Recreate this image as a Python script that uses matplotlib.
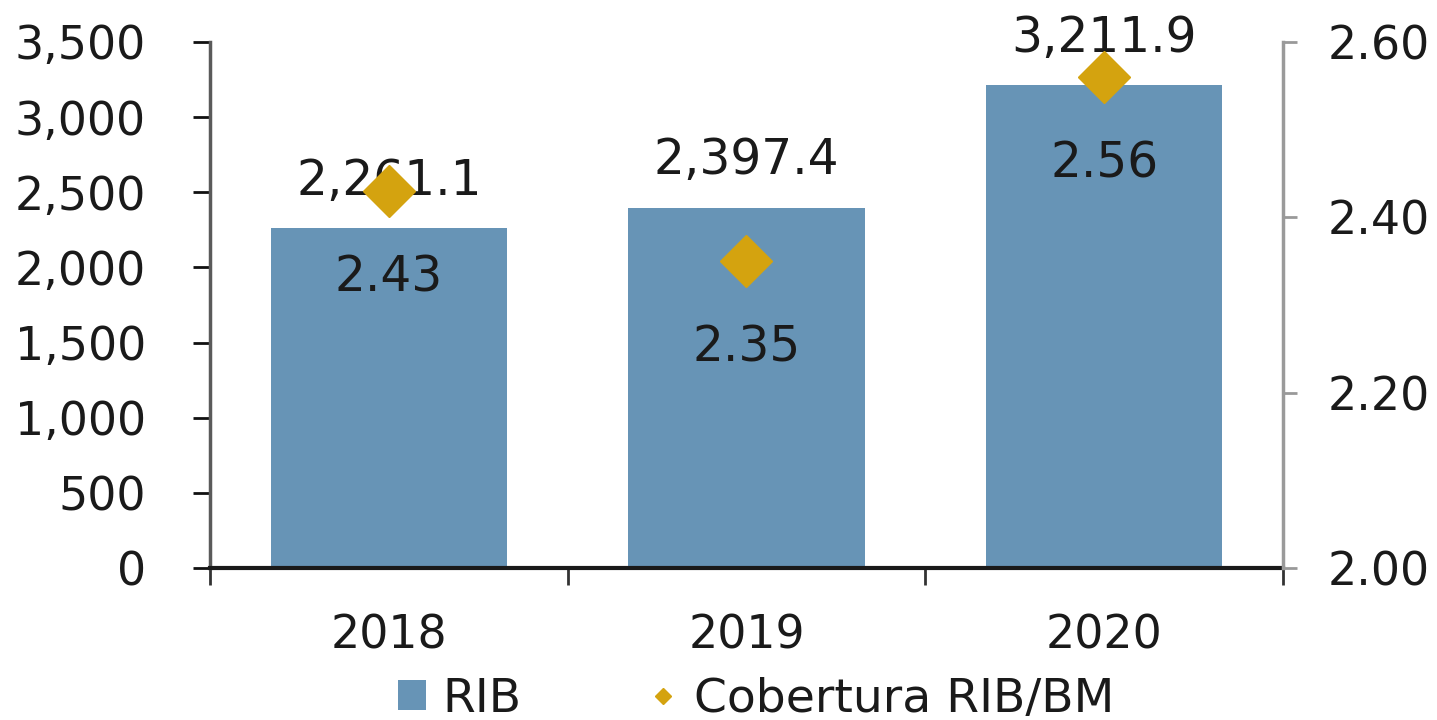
import matplotlib.pyplot as plt
from matplotlib.lines import Line2D
from matplotlib.patches import Patch

# data
years = ["2018", "2019", "2020"]
rib = [2261.1, 2397.4, 3211.9]
rib_labels = ["2,261.1", "2,397.4", "3,211.9"]
cobertura = [2.43, 2.35, 2.56]
cob_labels = ["2.43", "2.35", "2.56"]
left_ticks = [0, 500, 1000, 1500, 2000, 2500, 3000, 3500]
right_ticks = [2.00, 2.20, 2.40, 2.60]

bar_color = "#6794b6"
dia_color = "#d4a30f"
txt = "#1a1a1a"
fs = 33

plt.rcParams["font.family"] = "DejaVu Sans"

fig = plt.figure(figsize=(14.37, 7.2), dpi=100)
ax = fig.add_axes([210 / 1437, 1 - 568 / 720, (1283 - 210) / 1437, (568 - 42) / 720])
x = list(range(len(years)))

ax.bar(x, rib, width=0.66, color=bar_color, zorder=2)
ax.set_xlim(-0.5, 2.5)
ax.set_ylim(0, 3500)
ax.set_yticks(left_ticks)
ax.set_yticklabels([f"{v:,}" for v in left_ticks])

# category boundaries get the ticks, centres get the labels
ax.set_xticks([-0.5, 0.5, 1.5, 2.5])
ax.set_xticklabels([])
ax.set_xticks(x, minor=True)
ax.set_xticklabels(years, minor=True)
ax.tick_params(axis="x", which="major", direction="out", length=12, width=2, color="#333")
ax.tick_params(axis="x", which="minor", length=0, pad=33, labelsize=fs, labelcolor=txt)
ax.tick_params(axis="y", direction="out", length=12, width=2, color="#111",
               pad=34, labelsize=fs, labelcolor=txt)

ax.spines["top"].set_visible(False)
ax.spines["right"].set_visible(False)
ax.spines["left"].set_color("#5a5a5a")
ax.spines["left"].set_linewidth(2.5)
ax.spines["bottom"].set_color("#1a1a1a")
ax.spines["bottom"].set_linewidth(3)

for xi, v, lab in zip(x, rib, rib_labels):
    ax.annotate(lab, (xi, v), xytext=(0, 24), textcoords="offset points",
                ha="center", va="baseline", fontsize=35, color=txt, zorder=4)

ax2 = ax.twinx()
ax2.plot(x, cobertura, linestyle="none", marker="D", markersize=26,
         color=dia_color, zorder=3)
ax2.set_ylim(2.0, 2.6)
ax2.set_yticks(right_ticks)
ax2.set_yticklabels([f"{v:.2f}" for v in right_ticks])
ax2.tick_params(axis="y", direction="out", length=10, width=2, color="#999",
                pad=22, labelsize=fs, labelcolor=txt)
for s in ["top", "left", "bottom"]:
    ax2.spines[s].set_visible(False)
ax2.spines["right"].set_color("#9a9a9a")
ax2.spines["right"].set_linewidth(2.5)

for xi, v, lab in zip(x, cobertura, cob_labels):
    ax2.annotate(lab, (xi, v), xytext=(0, -72), textcoords="offset points",
                 ha="center", va="baseline", fontsize=35, color=txt, zorder=4)

handles = [
    Patch(facecolor=bar_color, label="RIB"),
    Line2D([], [], linestyle="none", marker="D", markersize=8, color=dia_color,
           label="Cobertura RIB/BM"),
]
fig.legend(handles=handles, loc="center", bbox_to_anchor=(756 / 1437, 1 - 699 / 720),
           ncol=2, frameon=False, fontsize=34, handlelength=0.6, handleheight=0.6,
           handletextpad=0.35, columnspacing=2.7, borderpad=0, labelcolor=txt)

fig.savefig("out.png", dpi=100)
